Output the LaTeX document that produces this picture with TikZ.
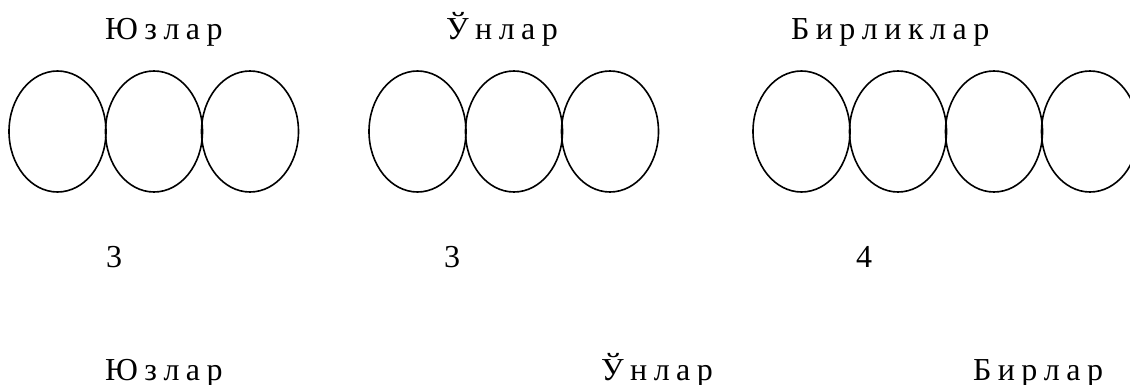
\documentclass[tikz,border=0pt]{standalone}
\usepackage{fontspec}
\setmainfont{Liberation Serif}
\usetikzlibrary{shapes.geometric}
\newlength{\lsp}
\setlength{\lsp}{6.5pt}
\newcommand{\gp}{\hspace{\lsp}}
\tikzset{
  oval/.style={draw, line width=1.6pt, ellipse, inner sep=0pt, outer sep=0pt,
    minimum width=97pt, minimum height=121pt},
  lbl/.style={anchor=base west, inner sep=0pt, outer sep=0pt,
    font=\fontsize{32}{38}\selectfont}
}
\begin{document}
\begin{tikzpicture}[x=1pt, y=-1pt]
\clip (0,0) rectangle (1130,385);
\fill[white] (0,0) rectangle (1130,385);
% top labels
\node[lbl] (t1) at (105,40) {Ю\gp з\gp л\gp а\gp р};
\node[lbl] (t2) at (446,40) {Ў\gp н\gp л\gp а\gp р};
\node[lbl] (t3) at (791,40) {Б\gp и\gp р\gp л\gp и\gp к\gp л\gp а\gp р};
% ovals
\node[oval] (a1) at (57.5,131.5) {};
\node[oval] (a2) at (154,131.5) {};
\node[oval] (a3) at (250,131.5) {};
\node[oval] (b1) at (417.5,131.5) {};
\node[oval] (b2) at (514,131.5) {};
\node[oval] (b3) at (610,131.5) {};
\node[oval] (c1) at (801.5,131.5) {};
\node[oval] (c2) at (898,131.5) {};
\node[oval] (c3) at (994,131.5) {};
\node[oval] (c4) at (1090,131.5) {};
% numbers
\node[lbl] (n1) at (106,267) {3};
\node[lbl] (n2) at (444,267) {3};
\node[lbl] (n3) at (856,267) {4};
% bottom labels
\node[lbl] (u1) at (105,380) {Ю\gp з\gp л\gp а\gp р};
\node[lbl] (u2) at (601,380) {Ў\gp н\gp л\gp а\gp р};
\node[lbl] (u3) at (973,380) {Б\gp и\gp р\gp л\gp а\gp р};
\end{tikzpicture}
\end{document}
